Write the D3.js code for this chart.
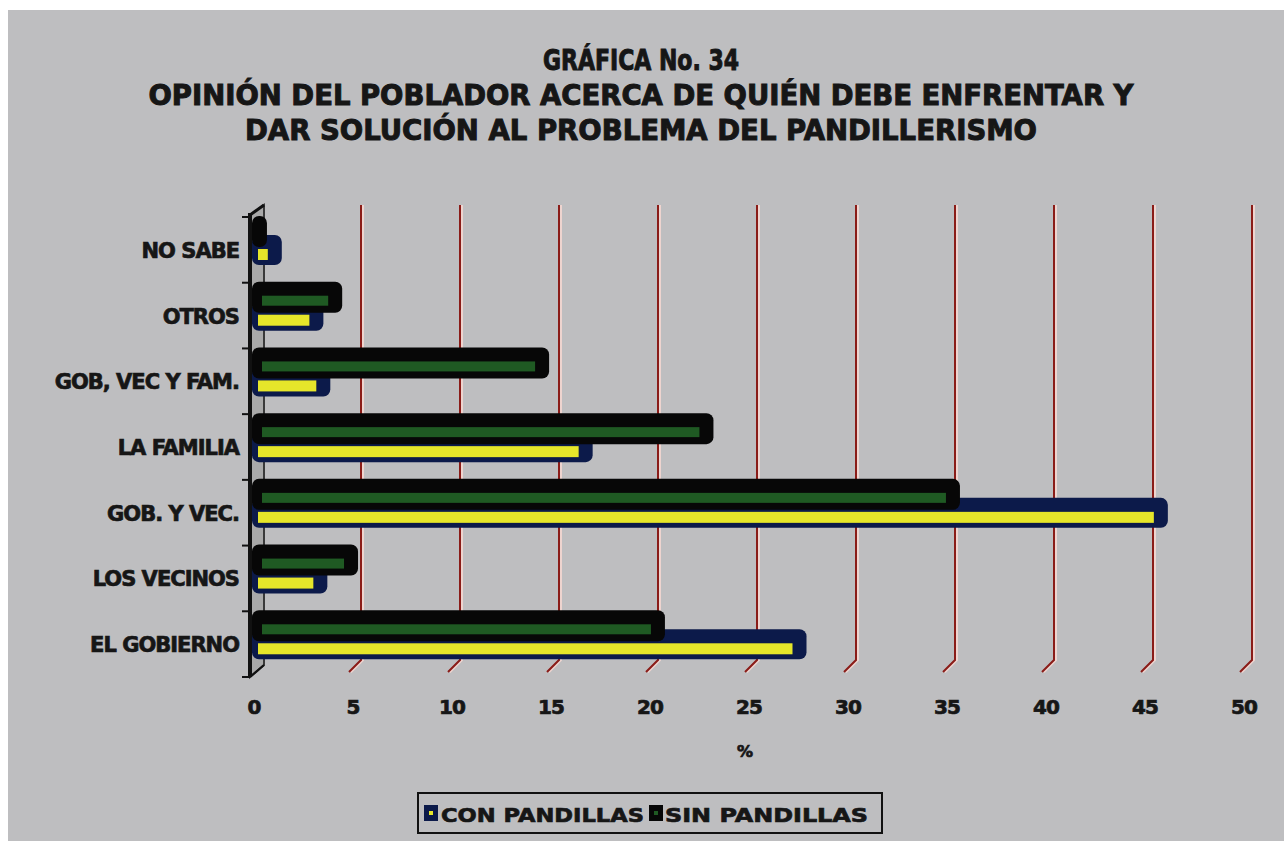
<!DOCTYPE html>
<meta charset="utf-8">
<style>
  body { margin: 0; background: #fff; }
  text { font-family: "DejaVu Sans", sans-serif; font-weight: bold; fill: #161616; stroke: #161616; stroke-width: 0.7px; }
</style>
<svg width="1284" height="841"></svg>
<script src="https://d3js.org/d3.v7.min.js"></script>
<script>

var categories = ["NO SABE", "OTROS", "GOB, VEC Y FAM.", "LA FAMILIA", "GOB. Y VEC.", "LOS VECINOS", "EL GOBIERNO"];
var conPandillas = [1.0, 3.1, 3.45, 16.7, 45.75, 3.3, 27.5];
var sinPandillas = [0.25, 4.05, 14.5, 22.8, 35.25, 4.85, 20.35];
var xTicks = [0, 5, 10, 15, 20, 25, 30, 35, 40, 45, 50];
var titleLines = ["GRÁFICA No. 34",
                  "OPINIÓN DEL POBLADOR ACERCA DE QUIÉN DEBE  ENFRENTAR Y",
                  "DAR SOLUCIÓN AL PROBLEMA DEL PANDILLERISMO"];

var svg = d3.select("svg");

// scanned page background
svg.append("rect").attr("x", 8).attr("y", 10).attr("width", 1276).attr("height", 831).attr("fill", "#bebec0");

var x = d3.scaleLinear().domain([0, 50]).range([262, 1252]);
var y = d3.scaleBand().domain(categories).range([217, 677]);
var dx = -12, dy = 12; // depth offset of the 3d floor

// title
svg.selectAll(".title").data(titleLines).enter().append("text")
    .attr("x", 641)
    .attr("y", function(d, i) { return 70 + i * 35; })
    .attr("text-anchor", "middle")
    .style("font-size", "28px")
    .style("stroke-width", "1px")
    .attr("textLength", function(d, i) { return [196, 985, 792][i]; })
    .attr("lengthAdjust", "spacingAndGlyphs")
    .text(function(d) { return d; });

// gridlines with the bent foot
var grid = svg.append("g");
xTicks.slice(1).forEach(function(t) {
  var gx = x(t), top = 205, bot = 660;
  var d = "M" + gx + "," + top + "L" + gx + "," + bot + "L" + (gx + dx) + "," + (bot + dy);
  grid.append("path").attr("d", d).attr("fill", "none")
      .attr("stroke", "#eed4cf").attr("stroke-width", 3).attr("transform", "translate(1.5,0)");
  grid.append("path").attr("d", d).attr("fill", "none")
      .attr("stroke", "#8a1c18").attr("stroke-width", 2);
});

// left wall
var wx = x(0);
svg.append("path")
    .attr("d", "M" + (wx - 12) + ",215L" + (wx - 12) + ",677L" + (wx + 2) + ",665L" + (wx + 2) + ",205Z")
    .attr("fill", "#a9a9a9").attr("stroke", "#3a3a3a").attr("stroke-width", 2);
svg.append("line").attr("x1", wx - 12).attr("x2", wx - 12).attr("y1", 213).attr("y2", 677)
    .attr("stroke", "#111").attr("stroke-width", 4);
svg.append("path").attr("d", "M" + (wx - 12) + ",215L" + (wx + 2) + ",205")
    .attr("stroke", "#111").attr("stroke-width", 3).attr("fill", "none");
svg.append("path").attr("d", "M" + (wx - 12) + ",677L" + (wx + 2) + ",665")
    .attr("stroke", "#111").attr("stroke-width", 2).attr("fill", "none");
y.domain().forEach(function(c) {
  svg.append("line").attr("x1", wx - 20).attr("x2", wx - 12)
      .attr("y1", y(c)).attr("y2", y(c)).attr("stroke", "#111").attr("stroke-width", 2);
});
svg.append("line").attr("x1", wx - 20).attr("x2", wx - 12).attr("y1", 677).attr("y2", 677)
    .attr("stroke", "#111").attr("stroke-width", 2);

// bars
var x0 = x(0) - 10;
var bars = svg.append("g");
categories.forEach(function(c, i) {
  var b = y(c);
  var xc = x(conPandillas[i]), xs = x(sinPandillas[i]);
  // con pandillas (navy frame, yellow core)
  bars.append("rect").attr("x", x0).attr("y", b + 18).attr("width", xc - x0).attr("height", 30)
      .attr("rx", 7).attr("fill", "#0c1a4a");
  bars.append("rect").attr("x", x0 + 6).attr("y", b + 32).attr("width", Math.max(4, xc - x0 - 20)).attr("height", 11)
      .attr("fill", "#e6e62a");
  // sin pandillas (black frame, green core)
  bars.append("rect").attr("x", x0).attr("y", b - 1).attr("width", xs - x0).attr("height", 31)
      .attr("rx", 7).attr("fill", "#070707");
  bars.append("rect").attr("x", x0 + 10).attr("y", b + 13).attr("width", Math.max(0, xs - x0 - 24)).attr("height", 10)
      .attr("fill", "#1f5a23");
});

// category labels
svg.selectAll(".cat").data(categories).enter().append("text")
    .attr("x", 239)
    .attr("y", function(d) { return y(d) + y.bandwidth() / 2 + 8; })
    .attr("text-anchor", "end")
    .style("font-size", "21px")
    .style("letter-spacing", "-1px")
    .text(function(d) { return d; });

// x tick labels on the front edge
svg.selectAll(".tick").data(xTicks).enter().append("text")
    .attr("x", function(d) { return x(d) - 8; })
    .attr("y", 714)
    .attr("text-anchor", "middle")
    .style("font-size", "20px")
    .style("letter-spacing", "-1px")
    .text(function(d) { return d; });

svg.append("text").attr("x", 745).attr("y", 757).attr("text-anchor", "middle")
    .style("font-size", "16px").text("%");

// legend
var lg = svg.append("g");
lg.append("rect").attr("x", 418).attr("y", 793).attr("width", 464).attr("height", 40)
    .attr("fill", "none").attr("stroke", "#111").attr("stroke-width", 2);
lg.append("rect").attr("x", 424).attr("y", 805).attr("width", 14).attr("height", 16).attr("fill", "#0c1a4a");
lg.append("rect").attr("x", 429).attr("y", 811).attr("width", 4).attr("height", 4).attr("fill", "#e6e62a");
lg.append("text").attr("x", 441).attr("y", 822).style("font-size", "20px")
    .attr("textLength", 203).attr("lengthAdjust", "spacingAndGlyphs").text("CON PANDILLAS");
lg.append("rect").attr("x", 649).attr("y", 805).attr("width", 14).attr("height", 16).attr("fill", "#070707");
lg.append("rect").attr("x", 654).attr("y", 811).attr("width", 4).attr("height", 4).attr("fill", "#1f5a23");
lg.append("text").attr("x", 665).attr("y", 822).style("font-size", "20px")
    .attr("textLength", 203).attr("lengthAdjust", "spacingAndGlyphs").text("SIN PANDILLAS");

</script>
